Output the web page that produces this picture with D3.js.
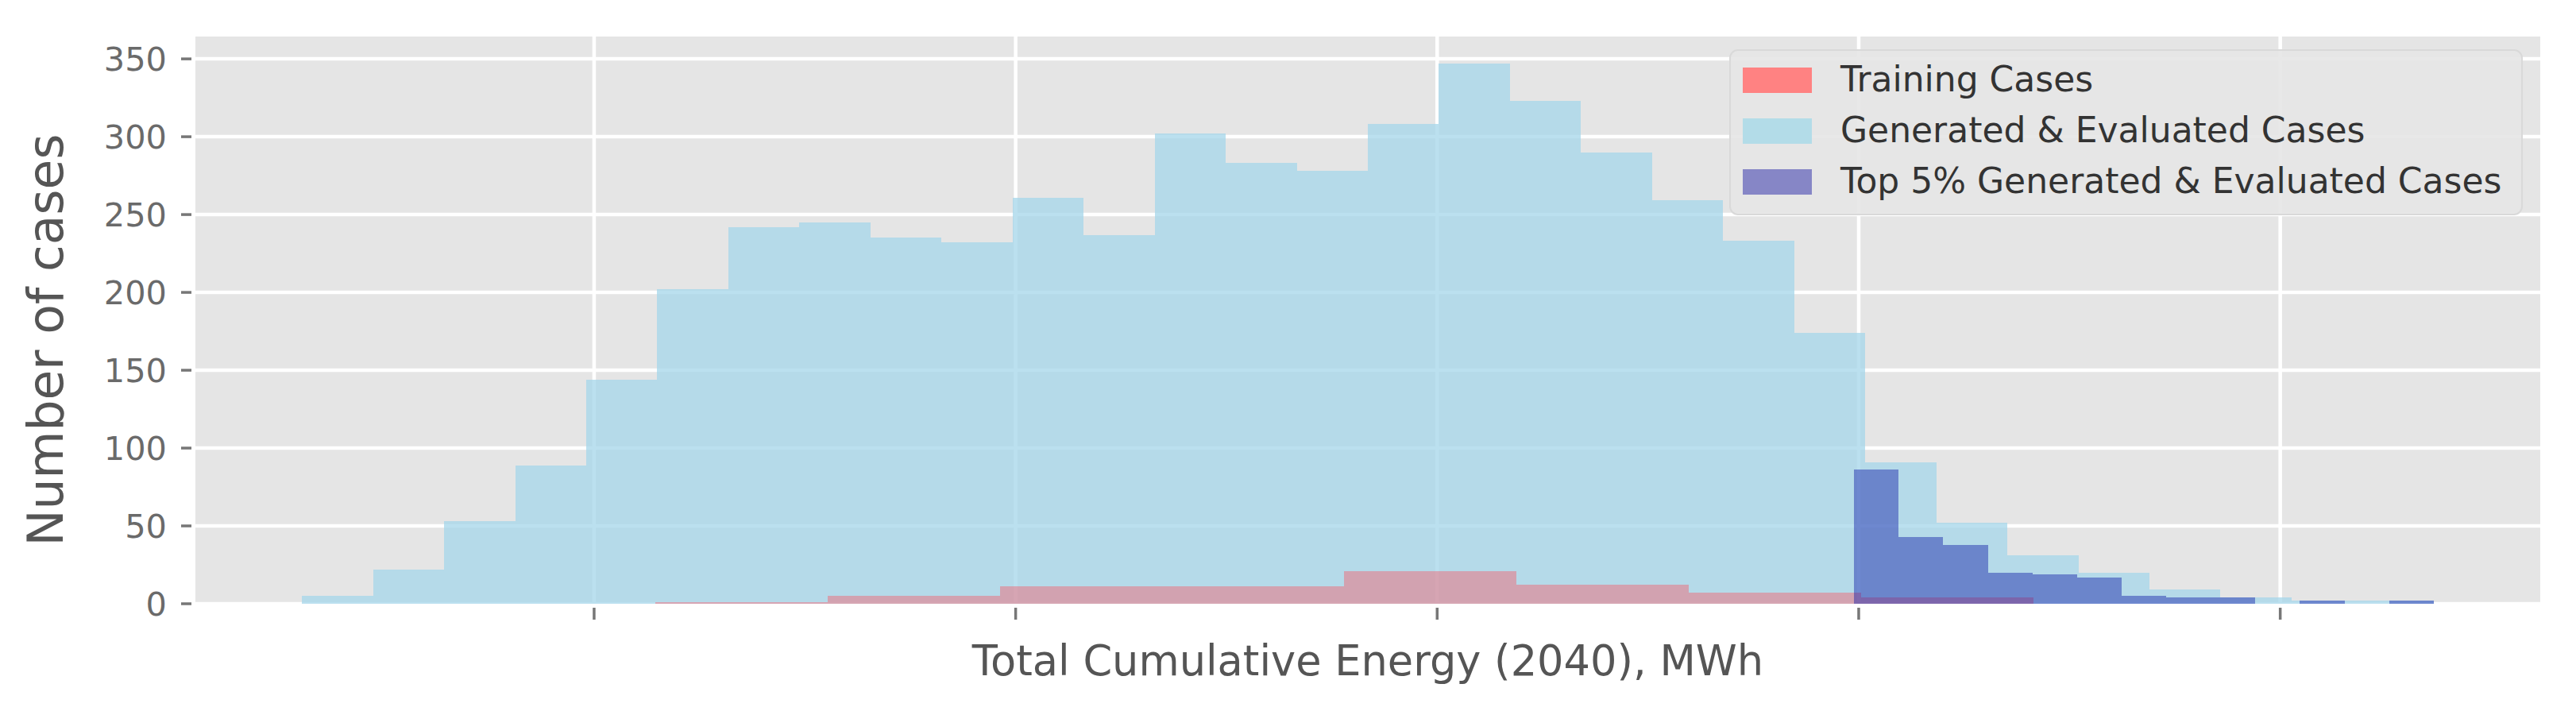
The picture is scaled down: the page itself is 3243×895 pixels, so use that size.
<!DOCTYPE html>
<html>
<head>
<meta charset="utf-8">
<script src="https://cdn.jsdelivr.net/npm/d3@7"></script>
<style>
  html, body { margin: 0; padding: 0; background: #ffffff; }
  svg { display: block; }
  text { font-family: "DejaVu Sans", sans-serif; }
</style>
</head>
<body>
<svg id="chart" width="3243" height="895"></svg>
<script>
// ---- Data (bin counts) ----
const genLabel = "Generated & Evaluated Cases";
const trainLabel = "Training Cases";
const topLabel = "Top 5% Generated & Evaluated Cases";

// x values in tick units (the original tick labels are not shown)
const genRange = [-0.693, 4.364];
const genCounts = [5, 22, 53, 89, 144, 202, 242, 245, 235, 232, 261, 237, 302, 283, 278,
                   308, 347, 323, 290, 259, 233, 174, 91, 52, 31, 20, 9, 4, 2, 2];

const trainRange = [0.145, 3.414];
const trainCounts = [1, 5, 11, 11, 21, 12, 7, 4];

const topRange = [2.989, 4.364];
const topCounts = [86, 43, 38, 20, 19, 17, 5, 4, 4, 0, 2, 0, 2];

const xTicks = [0, 1, 2, 3, 4];
const yTicks = [0, 50, 100, 150, 200, 250, 300, 350];

const xTitle = "Total Cumulative Energy (2040), MWh";
const yTitle = "Number of cases";

// ---- Layout ----
const W = 3243, H = 895;
const plot = { left: 246, right: 3198, top: 46, bottom: 760 };

const svg = d3.select("#chart");

const lo = Math.min(genRange[0], trainRange[0], topRange[0]);
const hi = Math.max(genRange[1], trainRange[1], topRange[1]);
const pad = 0.05 * (hi - lo);
const x = d3.scaleLinear().domain([lo - pad, hi + pad]).range([plot.left, plot.right]);
const ymax = d3.max(genCounts) * 1.05;
const y = d3.scaleLinear().domain([0, ymax]).range([plot.bottom, plot.top]);

// background
svg.append("rect")
  .attr("x", plot.left).attr("y", plot.top)
  .attr("width", plot.right - plot.left).attr("height", plot.bottom - plot.top)
  .attr("fill", "#e5e5e5");

// grid
const grid = svg.append("g");
grid.selectAll(".hg").data(yTicks).enter().append("line")
  .attr("x1", plot.left).attr("x2", plot.right)
  .attr("y1", d => y(d)).attr("y2", d => y(d))
  .attr("stroke", "#ffffff").attr("stroke-width", 4.5);
grid.selectAll(".vg").data(xTicks).enter().append("line")
  .attr("y1", plot.top).attr("y2", plot.bottom)
  .attr("x1", d => x(d)).attr("x2", d => x(d))
  .attr("stroke", "#ffffff").attr("stroke-width", 4.5);

// histogram helper
function bins(range, counts) {
  const w = (range[1] - range[0]) / counts.length;
  return counts.map((c, i) => ({ x0: range[0] + i * w, x1: range[0] + (i + 1) * w, c }));
}
function drawHist(range, counts, fill) {
  const data = bins(range, counts).filter(d => d.c > 0);
  svg.append("g").selectAll("rect").data(data).enter().append("rect")
    .attr("x", d => Math.round(x(d.x0)))
    .attr("width", d => Math.round(x(d.x1)) - Math.round(x(d.x0)))
    .attr("y", d => y(d.c))
    .attr("height", d => y(0) - y(d.c))
    .attr("fill", fill)
    .attr("shape-rendering", "crispEdges");
}

drawHist(genRange, genCounts, "rgba(164,214,233,0.75)");
drawHist(trainRange, trainCounts, "rgba(255,78,90,0.4)");
drawHist(topRange, topCounts, "rgba(10,20,165,0.43)");

// axes ticks
const tickColor = "#777777";
svg.append("g").selectAll("line").data(yTicks).enter().append("line")
  .attr("x1", plot.left - 18).attr("x2", plot.left - 5)
  .attr("y1", d => y(d)).attr("y2", d => y(d))
  .attr("stroke", tickColor).attr("stroke-width", 3.5);
svg.append("g").selectAll("line").data(xTicks).enter().append("line")
  .attr("x1", d => x(d)).attr("x2", d => x(d))
  .attr("y1", plot.bottom + 5).attr("y2", plot.bottom + 20)
  .attr("stroke", tickColor).attr("stroke-width", 3.5);

// y tick labels
svg.append("g").selectAll("text").data(yTicks).enter().append("text")
  .attr("x", 210)
  .attr("y", d => y(d) + 15.2)
  .attr("text-anchor", "end")
  .attr("font-size", 41.5)
  .attr("fill", "#6a6a6a")
  .text(d => d);

// axis titles
svg.append("text")
  .attr("x", (plot.left + plot.right) / 2)
  .attr("y", 850)
  .attr("text-anchor", "middle")
  .attr("font-size", 52.6)
  .attr("fill", "#555555")
  .text(xTitle);

svg.append("text")
  .attr("transform", "translate(79,428) rotate(-90)")
  .attr("text-anchor", "middle")
  .attr("font-size", 61.5)
  .attr("fill", "#555555")
  .text(yTitle);

// legend
const legendItems = [
  { label: trainLabel, color: "#ff8282" },
  { label: genLabel, color: "#b3dce8" },
  { label: topLabel, color: "#8686c6" }
];
const lg = svg.append("g");
lg.append("rect")
  .attr("x", 2178).attr("y", 63).attr("width", 997).attr("height", 207)
  .attr("rx", 10).attr("ry", 10)
  .attr("fill", "#e5e5e5").attr("fill-opacity", 0.9)
  .attr("stroke", "#d9d9d9").attr("stroke-width", 2);
const rows = lg.selectAll(".row").data(legendItems).enter().append("g")
  .attr("transform", (d, i) => `translate(0,${115 + i * 64})`);
rows.append("rect")
  .attr("x", 2194).attr("y", -30).attr("width", 87).attr("height", 32)
  .attr("fill", d => d.color);
rows.append("text")
  .attr("x", 2317).attr("y", 0)
  .attr("font-size", 44)
  .attr("fill", "#333333")
  .text(d => d.label);
</script>
</body>
</html>
